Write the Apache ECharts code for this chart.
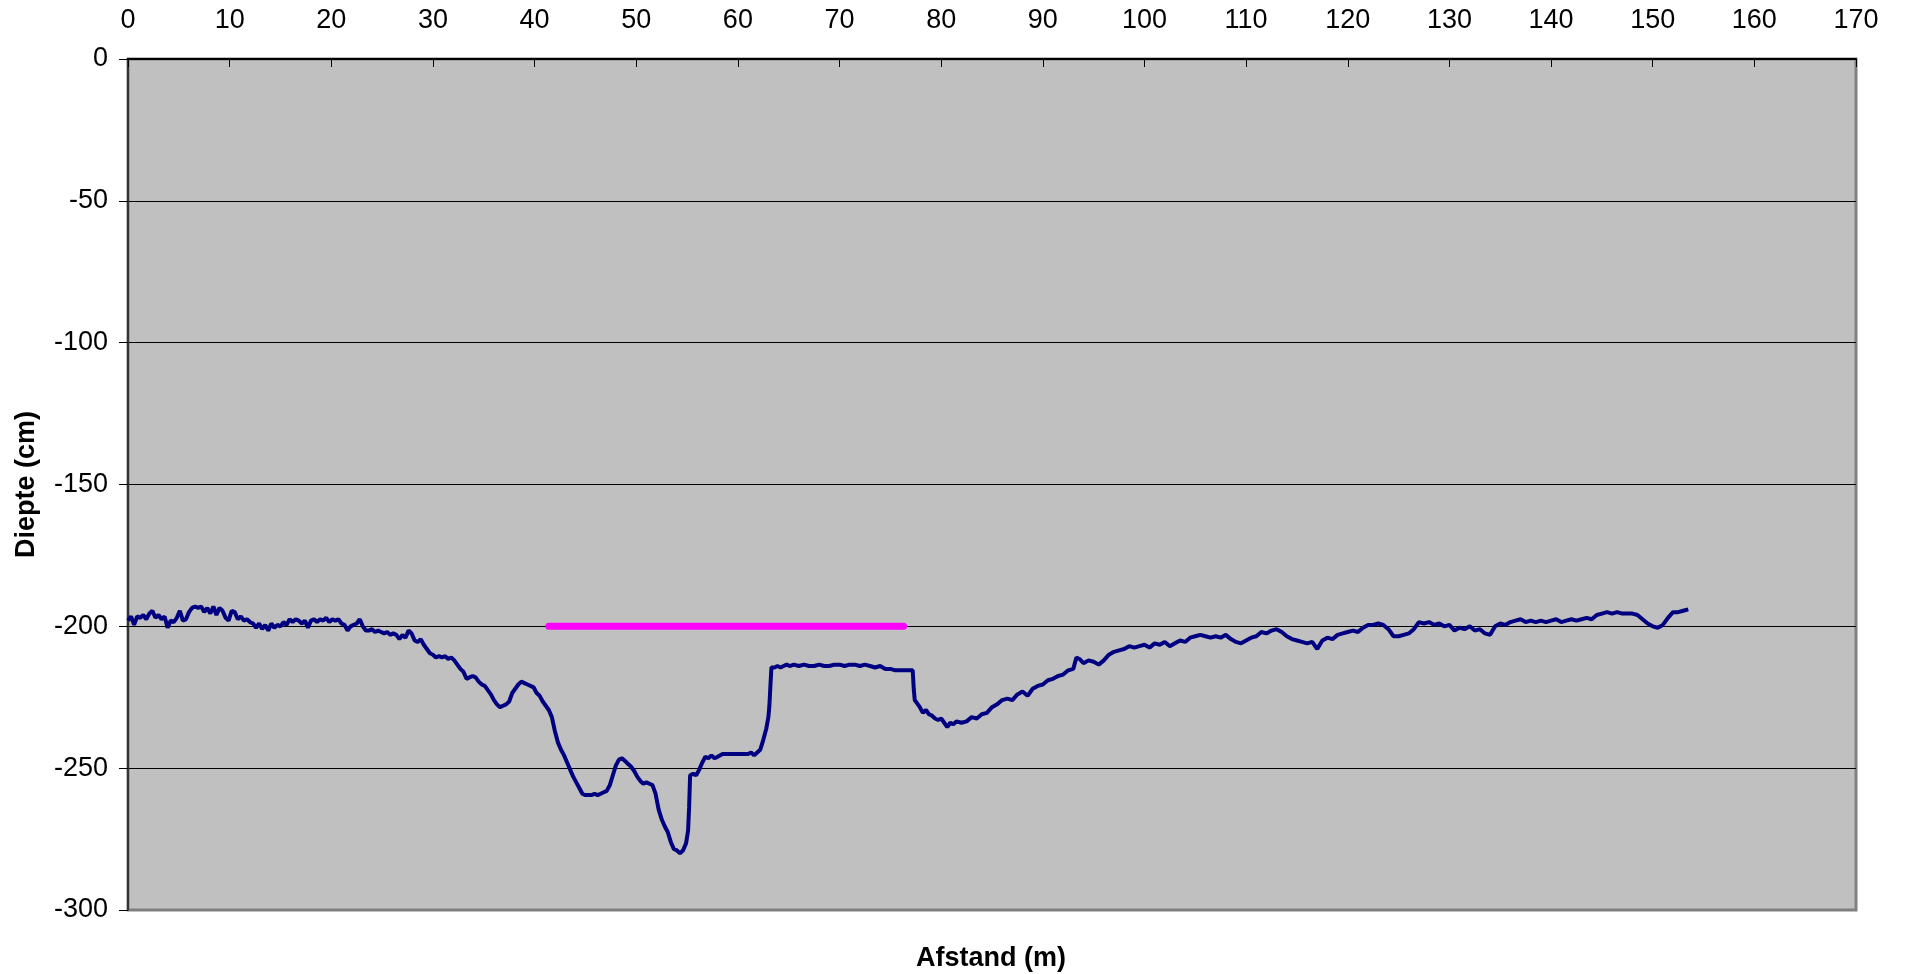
<!DOCTYPE html>
<html>
<head>
<meta charset="utf-8">
<style>
html,body{margin:0;padding:0;background:#fff;}
#chart{width:1905px;height:974px;}
</style>
<script src="https://cdn.jsdelivr.net/npm/echarts@6/dist/echarts.min.js"></script>
</head>
<body>
<div id="chart"></div>
<script>
// ---- data ----
var xTickLabels = [0,10,20,30,40,50,60,70,80,90,100,110,120,130,140,150,160,170];
var yTickLabels = [0,-50,-100,-150,-200,-250,-300];

var profileDist = [
0,0.3,0.6,0.9,1.2,1.5,1.8,2.1,2.4,2.7,3.0,3.3,3.6,3.9,4.2,4.5,4.8,5.1,5.4,5.7,
6.0,6.3,6.6,6.9,7.2,7.5,7.8,8.1,8.4,8.7,9.0,9.3,9.6,9.9,10.2,10.5,10.8,
11.1,11.4,11.7,12.0,12.3,12.6,12.9,13.2,13.5,13.8,14.1,14.4,14.7,15.0,15.3,15.6,15.9,16.2,16.5,16.8,
17.1,17.4,17.7,18.0,18.3,18.6,18.9,19.2,19.5,19.8,20.1,20.4,20.7,21.0,21.3,21.6,21.9,22.2,22.5,22.8,
23.1,23.4,23.7,24.0,24.3,24.6,24.9,25.2,25.5,25.8,26.1,26.4,26.7,27.0,27.3,27.6,27.9,28.2,28.5,28.8,
29.1,29.4,29.7,30.0,30.3,30.6,30.9,31.2,31.5,31.8,32.1,32.4,32.7,33.0,33.3,33.6,33.9,34.2,34.5,34.8,
35.1,35.4,35.7,36.0,36.3,36.6,36.9,37.2,37.5,37.8,38.1,38.4,38.7,39.0,39.3,39.6,39.9,40.2,40.5,40.8,
41.1,41.4,41.7,42.0,42.3,42.6,42.9,43.2,43.5,43.8,44.1,44.4,44.7,45.0,45.3,45.6,45.9,46.2,46.5,46.8,
47.1,47.4,47.7,48.0,48.3,48.6,48.9,49.2,49.5,49.8,50.1,50.4,50.7,51.0,51.3,51.6,51.9,52.2,52.5,52.8,
53.1,53.4,53.7,54.0,54.3,54.6,54.9,55.1,55.2,55.3,55.6,55.9,56.2,56.5,56.8,57.1,57.4,57.7,58.0,58.5,
59.0,59.5,60.0,60.5,61.0,61.3,61.6,61.9,62.2,62.5,62.8,63.0,63.1,63.2,63.3,63.6,63.9,64.2,64.5,64.8,
65.1,65.5,66.0,66.5,67.0,67.5,68.0,68.5,69.0,69.5,70.0,70.5,71.0,71.5,72.0,72.5,73.0,73.5,74.0,74.5,
75.0,75.5,76.0,76.5,77.0,77.2,77.3,77.4,77.6,77.9,78.2,78.5,78.8,79.1,79.4,79.7,80.0,80.3,80.6,80.9,
81.2,81.5,82.0,82.5,83.0,83.5,84.0,84.5,85.0,85.5,86.0,86.5,87.0,87.5,88.0,88.5,89.0,89.5,90.0,90.5,
91.0,91.5,92.0,92.5,93.0,93.3,93.6,94.0,94.5,95.0,95.5,96.0,96.5,97.0,97.5,98.0,98.5,99.0,99.5,100.0,
100.5,101.0,101.5,102.0,102.5,103.0,103.5,104.0,104.5,105.0,105.5,106.0,106.5,107.0,107.5,108.0,108.5,109.0,109.5,110.0,
110.5,111.0,111.5,112.0,112.5,113.0,113.5,114.0,114.5,115.0,115.5,116.0,116.5,117.0,117.5,118.0,118.5,119.0,119.5,120.0,
120.5,121.0,121.5,122.0,122.5,123.0,123.5,124.0,124.5,125.0,125.5,126.0,126.5,127.0,127.5,128.0,128.5,129.0,129.5,130.0,
130.5,131.0,131.5,132.0,132.5,133.0,133.5,134.0,134.5,135.0,135.5,136.0,136.5,137.0,137.5,138.0,138.5,139.0,139.5,140.0,
140.5,141.0,141.5,142.0,142.5,143.0,143.5,144.0,144.5,145.0,145.5,146.0,146.5,147.0,147.5,148.0,148.5,149.0,149.5,150.0,
150.5,151.0,151.5,152.0,152.5,153.0,153.5
];

var profileDepth = [
-198,-196.5,-199.5,-196.5,-197,-196,-197.5,-195.5,-194.5,-197,-196,-197.5,-196.5,-200.5,-198,-198.5,-197,-194.5,-198,-197.5,
-195,-193.5,-193,-193.5,-193,-195,-193.5,-195.5,-193,-196,-193.5,-194.5,-197,-198,-194.5,-195,-197.5,
-196.5,-198,-197.5,-198.5,-199,-200.5,-199,-201,-199.5,-201.5,-199,-200.5,-199.5,-200,-198.5,-199.5,-197.5,-198.5,-197.5,-198,
-199,-198,-200.5,-198,-197.5,-198.5,-197.5,-198,-197,-198.5,-197.5,-198,-197.5,-199,-199.5,-201.5,-200,-199.5,-199,-197.5,
-200,-201.5,-201.5,-201,-202,-201.5,-202,-202.5,-202,-203,-202.5,-203,-204.5,-203,-204,-201.5,-202.5,-205,-205.5,-204.5,
-206.5,-208,-209.5,-210,-211,-210.5,-211,-210.5,-211.5,-211,-212,-213.5,-215,-216,-218.5,-218,-217.5,-218,-219.5,-220.5,
-221,-222.5,-224,-226,-227.5,-228.5,-228,-227.5,-226.5,-223.5,-222,-220.5,-219.5,-220,-220.5,-221,-221.5,-223.5,-224.5,-226.5,
-228,-229.5,-232,-237,-241,-243.5,-245.5,-248,-250.5,-253,-255,-257,-259,-259.5,-259.5,-259.5,-259,-259.5,-259,-258.5,
-258,-256,-252.5,-249,-247,-246.5,-247.5,-248.5,-249.5,-251,-253,-254.5,-255.5,-255,-255.5,-256,-259,-264.5,-268,-270.5,
-272.5,-276,-278.5,-279,-280,-279,-276.5,-272,-264,-252.5,-252,-252.5,-250.5,-248,-246,-246.5,-245.5,-246.5,-246,-245,
-245,-245,-245,-245,-245,-244.5,-245.5,-244.5,-243.5,-240,-236,-232,-228,-221,-214.5,-214.5,-214,-214.5,-214,-213.5,
-214,-213.5,-214,-213.5,-214,-214,-213.5,-214,-214,-213.5,-213.5,-214,-213.5,-213.5,-214,-213.5,-214,-214.5,-214,-215,
-215,-215.5,-215.5,-215.5,-215.5,-215.5,-222,-226,-227,-228.5,-230.5,-229.5,-231,-231.5,-232.5,-233,-232.5,-234,-235.5,-234,
-234.5,-233.5,-234,-233.5,-232,-232.5,-231,-230.5,-228.5,-227.5,-226,-225.5,-226,-224,-223,-224.5,-222,-221,-220.5,-219,
-218.5,-217.5,-217,-215.5,-215,-211,-211.5,-213,-212,-212.5,-213.5,-212,-210,-209,-208.5,-208,-207,-207.5,-207,-206.5,
-207.5,-206,-206.5,-205.5,-207,-206,-205,-205.5,-204,-203.5,-203,-203.5,-204,-203.5,-204,-203,-204.5,-205.5,-206,-205,
-204,-203.5,-202,-202.5,-201.5,-201,-202,-203.5,-204.5,-205,-205.5,-206,-205.5,-208,-205,-204,-204.5,-203,-202.5,-202,
-201.5,-202,-200.5,-199.5,-199.5,-199,-199.5,-201,-203.5,-203.5,-203,-202.5,-201,-198.5,-199,-198.5,-199.5,-199,-200,-199.5,
-201.5,-200.5,-201,-200,-201.5,-201,-202.5,-203,-200,-199,-199.5,-198.5,-198,-197.5,-198.5,-198,-198.5,-198,-198.5,-198,
-197.5,-198.5,-198,-197.5,-198,-197.5,-197,-197.5,-196,-195.5,-195,-195.5,-195,-195.5,-195.5,-195.5,-196,-197.5,-199,-200,
-200.5,-199.5,-197,-195,-195,-194.5,-194
];

var refDist = [41.4, 45, 50, 55, 60, 65, 70, 76.3];
var refDepth = [-200, -200, -200, -200, -200, -200, -200, -200];

var xTitle = 'Afstand (m)';
var yTitle = 'Diepte (cm)';

// ---- build ----
function zip(a, b) { var r = []; for (var i = 0; i < a.length; i++) r.push([a[i], b[i]]); return r; }

var chart = echarts.init(document.getElementById('chart'), null, {renderer: 'canvas'});
var FONT = 'Liberation Sans, Arial, sans-serif';
chart.setOption({
  animation: false,
  backgroundColor: '#ffffff',
  title: {
    text: xTitle,
    left: 986, top: 940,
    textAlign: 'center',
    textStyle: {fontFamily: FONT, fontSize: 27, fontWeight: 'bold', color: '#000'}
  },
  grid: {
    left: 128, right: 49, top: 59, bottom: 64,
    show: true, backgroundColor: '#C0C0C0',
    borderColor: '#808080', borderWidth: 3
  },
  xAxis: {
    type: 'value', position: 'top',
    min: 0, max: 170, interval: 10,
    axisLine: {show: true, onZero: false, lineStyle: {color: '#000', width: 2}},
    axisTick: {show: true, inside: true, length: 8, lineStyle: {color: '#000', width: 1}},
    axisLabel: {fontFamily: FONT, fontSize: 27, color: '#000', margin: 25,
      formatter: function (v) { return xTickLabels.indexOf(v) >= 0 ? String(v) : ''; }},
    splitLine: {show: false}
  },
  yAxis: {
    type: 'value',
    min: -300, max: 0, interval: 50,
    name: yTitle, nameLocation: 'middle', nameGap: 88, nameRotate: 90,
    nameTextStyle: {fontFamily: FONT, fontSize: 27, fontWeight: 'bold', color: '#000'},
    axisLine: {show: true, onZero: false, lineStyle: {color: '#333', width: 2}},
    axisTick: {show: true, inside: false, length: 9, lineStyle: {color: '#000', width: 1}},
    axisLabel: {fontFamily: FONT, fontSize: 27, color: '#000', margin: 20,
      formatter: function (v) { return yTickLabels.indexOf(v) >= 0 ? String(v) : ''; }},
    splitLine: {show: true, showMinLine: false, showMaxLine: false, lineStyle: {color: '#000', width: 1}}
  },
  series: [
    {
      type: 'line', data: zip(profileDist, profileDepth),
      showSymbol: false, symbol: 'none',
      lineStyle: {color: '#000080', width: 4},
      z: 3
    },
    {
      type: 'line', data: zip(refDist, refDepth),
      showSymbol: false, symbol: 'none',
      lineStyle: {color: '#FF00FF', width: 7, cap: 'round'},
      z: 4
    }
  ]
});
</script>
</body>
</html>
